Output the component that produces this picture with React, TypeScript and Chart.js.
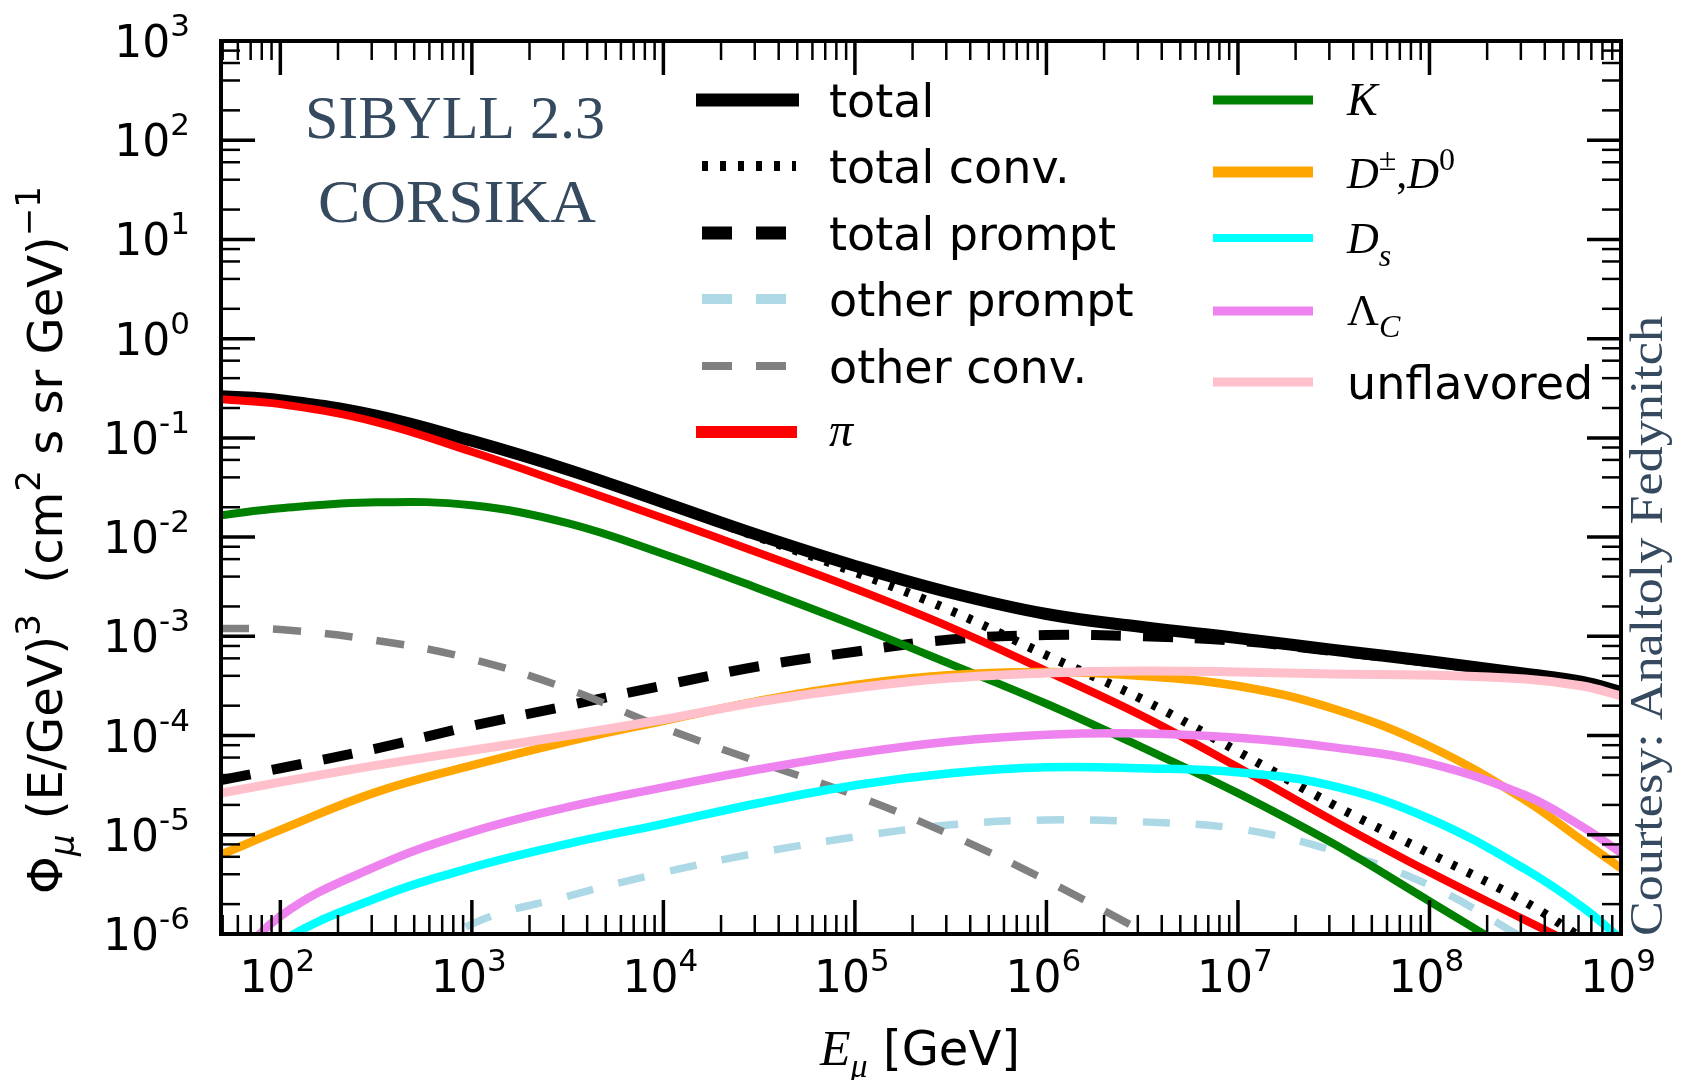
import React, { useEffect, useRef } from "react";
import { Chart, registerables } from "chart.js";

Chart.register(...registerables);

// ---------- data ----------
const energies = [49, 100, 316, 1000, 3160, 10000, 31600, 100000, 316000, 1e6, 3.16e6, 1e7, 3.16e7, 1e8, 3.16e8, 6.3e8, 1e9];

const total = [0.263, 0.24, 0.168, 0.0935, 0.0479, 0.0224, 0.0104, 0.00513, 0.00275, 0.00168, 0.00124, 0.00096, 0.00073, 0.00056, 0.00042, 0.000347, 0.000275];
const totalConv = [0.263, 0.2397, 0.168, 0.0934, 0.0477, 0.0221, 0.0099, 0.00443, 0.00182, 0.000645, 0.000232, 0.000069, 0.00002, 0.0000065, 0.0000021, 0.0000009, 0.0000005];
const totalPrompt = [0.0000355, 0.0000468, 0.000074, 0.000125, 0.0002, 0.00032, 0.0005, 0.0007, 0.00093, 0.00103, 0.001, 0.0009, 0.00071, 0.00055, 0.000415, 0.000345, 0.000272];
const otherPrompt = [null, null, 3.2e-7, 1.26e-6, 2.4e-6, 4.17e-6, 6.6e-6, 9.5e-6, 1.26e-5, 1.41e-5, 1.35e-5, 1.15e-5, 6.9e-6, 3.1e-6, 8.9e-7, null, null];
const otherConv = [1.2e-3, 1.17e-3, 9.1e-4, 5.9e-4, 2.95e-4, 1.2e-4, 5.4e-5, 2.5e-5, 1.0e-5, 3.47e-6, 1.07e-6, 3.2e-7, null, null, null, null, null];
const pion = [0.245, 0.219, 0.1445, 0.0724, 0.0339, 0.0155, 0.0069, 0.00302, 0.00123, 4.47e-4, 1.58e-4, 4.8e-5, 1.38e-5, 4.2e-6, 1.38e-6, 7.1e-7, 4.5e-7];
const kaon = [0.0166, 0.0195, 0.0224, 0.0209, 0.0138, 0.00676, 0.00302, 0.00129, 5.25e-4, 2.09e-4, 7.6e-5, 2.63e-5, 8.1e-6, 2.14e-6, 5.6e-7, 2.5e-7, 1.4e-7];
const dMeson = [6.3e-6, 1.12e-5, 2.69e-5, 5.0e-5, 8.7e-5, 1.41e-4, 2.24e-4, 3.24e-4, 4.07e-4, 4.37e-4, 3.98e-4, 3.16e-4, 1.86e-4, 7.8e-5, 2.24e-5, 8.7e-6, 4.6e-6];
const dsMeson = [2.5e-7, 8.3e-7, 2.29e-6, 4.68e-6, 8.1e-6, 1.29e-5, 2.09e-5, 3.16e-5, 4.17e-5, 4.79e-5, 4.68e-5, 4.27e-5, 3.09e-5, 1.45e-5, 4.5e-6, 1.86e-6, 8.9e-7];
const lambdaC = [3.5e-7, 1.51e-6, 4.8e-6, 1.07e-5, 1.9e-5, 3.0e-5, 4.57e-5, 6.6e-5, 8.7e-5, 1.02e-4, 1.05e-4, 9.5e-5, 7.6e-5, 5.25e-5, 2.5e-5, 1.2e-5, 6.6e-6];
const unflavored = [2.63e-5, 3.39e-5, 5.0e-5, 7.1e-5, 1.0e-4, 1.45e-4, 2.19e-4, 3.02e-4, 3.8e-4, 4.27e-4, 4.47e-4, 4.37e-4, 4.17e-4, 4.07e-4, 3.72e-4, 3.16e-4, 2.51e-4];

const xTickExponents = [2, 3, 4, 5, 6, 7, 8, 9];
const yTickExponents = [-6, -5, -4, -3, -2, -1, 0, 1, 2, 3];
const xMinorSubs = [2, 3, 4, 5, 6, 7, 8, 9];
const yMinorSubs = [2, 4, 6, 8];

const X_MIN = 49;
const X_MAX = 1e9;
const Y_MIN = 1e-6;
const Y_MAX = 1e3;

const SANS = '"DejaVu Sans", sans-serif';
const SERIF = '"Liberation Serif", "DejaVu Serif", serif';
const SLATE = "#35495f";

type Seg = { t: string; f: string; dy?: number };

function segWidth(ctx: CanvasRenderingContext2D, segs: Seg[]) {
  let w = 0;
  for (const s of segs) {
    ctx.font = s.f;
    w += ctx.measureText(s.t).width;
  }
  return w;
}

function drawSegs(ctx: CanvasRenderingContext2D, segs: Seg[], x: number, y: number) {
  let cx = x;
  for (const s of segs) {
    ctx.font = s.f;
    ctx.fillText(s.t, cx, y + (s.dy || 0));
    cx += ctx.measureText(s.t).width;
  }
}

function tickSegs(e: number): Seg[] {
  return [
    { t: "10", f: `44px ${SANS}` },
    { t: e < 0 ? "-" + Math.abs(e) : String(e), f: `31px ${SANS}`, dy: -21 },
  ];
}

function handle(ctx: CanvasRenderingContext2D, x0: number, x1: number, y: number, color: string, width: number, dash: number[]) {
  ctx.save();
  ctx.strokeStyle = color;
  ctx.lineWidth = width;
  ctx.setLineDash(dash);
  ctx.lineCap = "butt";
  ctx.beginPath();
  ctx.moveTo(x0, y);
  ctx.lineTo(x1, y);
  ctx.stroke();
  ctx.restore();
}

const legendCol1 = [
  { segs: [{ t: "total", f: `46px ${SANS}` }], y: 100, base: 117, color: "#000", w: 13, dash: [] as number[], x0: 696, x1: 799 },
  { segs: [{ t: "total conv.", f: `46px ${SANS}` }], y: 166, base: 183, color: "#000", w: 10, dash: [6, 12], x0: 702, x1: 796 },
  { segs: [{ t: "total prompt", f: `46px ${SANS}` }], y: 233, base: 250, color: "#000", w: 13, dash: [30, 24], x0: 702, x1: 786 },
  { segs: [{ t: "other prompt", f: `46px ${SANS}` }], y: 299, base: 316, color: "#add8e6", w: 10, dash: [30, 24], x0: 702, x1: 786 },
  { segs: [{ t: "other conv.", f: `46px ${SANS}` }], y: 366, base: 383, color: "#808080", w: 8, dash: [30, 24], x0: 702, x1: 786 },
  { segs: [{ t: "π", f: `italic 48px ${SERIF}` }], y: 432, base: 446, color: "#ff0000", w: 12, dash: [] as number[], x0: 696, x1: 797 },
];

const legendCol2 = [
  { segs: [{ t: "K", f: `italic 46px ${SERIF}` }], y: 100, base: 115, color: "#008000", w: 9 },
  {
    segs: [
      { t: "D", f: `italic 44px ${SERIF}` },
      { t: "±", f: `32px ${SERIF}`, dy: -18 },
      { t: ",", f: `44px ${SERIF}` },
      { t: "D", f: `italic 44px ${SERIF}` },
      { t: "0", f: `32px ${SERIF}`, dy: -18 },
    ],
    y: 172, base: 188, color: "#ffa500", w: 11,
  },
  { segs: [{ t: "D", f: `italic 44px ${SERIF}` }, { t: "s", f: `italic 32px ${SERIF}`, dy: 13 }], y: 238, base: 253, color: "#00ffff", w: 8 },
  { segs: [{ t: "Λ", f: `44px ${SERIF}` }, { t: "C", f: `italic 32px ${SERIF}`, dy: 12 }], y: 311, base: 325, color: "#ee82ee", w: 9 },
  { segs: [{ t: "unflavored", f: `46px ${SANS}` }], y: 382, base: 399, color: "#ffc0cb", w: 9 },
];

const overlayPlugin = {
  id: "overlay",
  afterDraw(chart: any) {
    const ctx: CanvasRenderingContext2D = chart.ctx;
    const { left, right, top, bottom } = chart.chartArea;
    const xs = chart.scales.x;
    const ys = chart.scales.y;
    ctx.save();
    ctx.strokeStyle = "#000";
    ctx.fillStyle = "#000";
    ctx.lineCap = "butt";
    ctx.setLineDash([]);
    const seg = (x1: number, y1: number, x2: number, y2: number, w: number) => {
      ctx.lineWidth = w;
      ctx.beginPath();
      ctx.moveTo(x1, y1);
      ctx.lineTo(x2, y2);
      ctx.stroke();
    };
    const MAJ = 34, MIN = 19, MAJW = 3.5, MINW = 2.5;

    // x ticks (bottom + top, inward)
    for (let e = xTickExponents[0] - 1; e <= xTickExponents[xTickExponents.length - 1]; e++) {
      for (const m of [1, ...xMinorSubs]) {
        const v = m * Math.pow(10, e);
        if (v < X_MIN * 1.02 || v > X_MAX * 1.0001) continue;
        const px = xs.getPixelForValue(v);
        const major = m === 1;
        const len = major ? MAJ : MIN;
        const w = major ? MAJW : MINW;
        seg(px, bottom, px, bottom - len, w);
        seg(px, top, px, top + len, w);
      }
    }
    // y ticks (left + right, inward)
    for (let e = yTickExponents[0]; e <= yTickExponents[yTickExponents.length - 1]; e++) {
      for (const m of [1, ...yMinorSubs]) {
        const v = m * Math.pow(10, e);
        if (v < Y_MIN * 0.999 || v > Y_MAX * 1.001) continue;
        const py = ys.getPixelForValue(v);
        const major = m === 1;
        const len = major ? MAJ : MIN;
        const w = major ? MAJW : MINW;
        seg(left, py, left + len, py, w);
        seg(right, py, right - len, py, w);
      }
    }
    // frame
    ctx.lineWidth = 4;
    ctx.strokeRect(left, top, right - left, bottom - top);

    // tick labels
    ctx.textAlign = "left";
    ctx.textBaseline = "alphabetic";
    for (const e of xTickExponents) {
      const px = xs.getPixelForValue(Math.pow(10, e));
      const segs = tickSegs(e);
      const w = segWidth(ctx, segs);
      drawSegs(ctx, segs, px - w / 2 - 3, 992);
    }
    for (const e of yTickExponents) {
      const py = ys.getPixelForValue(Math.pow(10, e));
      const segs = tickSegs(e);
      const w = segWidth(ctx, segs);
      drawSegs(ctx, segs, 190 - w, py + 16);
    }

    // x title
    const xt: Seg[] = [
      { t: "E", f: `italic 50px ${SERIF}` },
      { t: "μ", f: `italic 34px ${SERIF}`, dy: 12 },
      { t: " [GeV]", f: `48px ${SANS}` },
    ];
    const xw = segWidth(ctx, xt);
    drawSegs(ctx, xt, 920 - xw / 2, 1065);

    // y title (rotated)
    const yt: Seg[] = [
      { t: "Φ", f: `48px ${SANS}` },
      { t: "μ", f: `italic 34px ${SANS}`, dy: 12 },
      { t: " (E/GeV)", f: `48px ${SANS}` },
      { t: "3", f: `34px ${SANS}`, dy: -22 },
      { t: "  (cm", f: `48px ${SANS}` },
      { t: "2", f: `34px ${SANS}`, dy: -22 },
      { t: " s sr GeV)", f: `48px ${SANS}` },
      { t: "−1", f: `34px ${SANS}`, dy: -22 },
    ];
    ctx.save();
    ctx.translate(62, 540);
    ctx.rotate(-Math.PI / 2);
    const yw = segWidth(ctx, yt);
    drawSegs(ctx, yt, -yw / 2, 0);
    ctx.restore();

    // legend
    for (const it of legendCol1) {
      handle(ctx, it.x0, it.x1, it.y, it.color, it.w, it.dash);
      ctx.fillStyle = "#000";
      drawSegs(ctx, it.segs as Seg[], 829, it.base);
    }
    for (const it of legendCol2) {
      handle(ctx, 1213, 1313, it.y, it.color, it.w, []);
      ctx.fillStyle = "#000";
      drawSegs(ctx, it.segs as Seg[], 1347, it.base);
    }

    // annotations
    const fit = (text: string, font: string, cx: number, base: number, target: number) => {
      ctx.font = font;
      const w = ctx.measureText(text).width;
      ctx.save();
      ctx.translate(cx, base);
      ctx.scale(target / w, 1);
      ctx.textAlign = "center";
      ctx.fillText(text, 0, 0);
      ctx.restore();
    };
    ctx.fillStyle = SLATE;
    fit("SIBYLL 2.3", `62px ${SERIF}`, 455, 138, 300);
    fit("CORSIKA", `62px ${SERIF}`, 457, 222, 278);

    ctx.save();
    ctx.translate(1662, 936);
    ctx.rotate(-Math.PI / 2);
    ctx.font = `46px ${SERIF}`;
    const ct = "Courtesy: Analtoly Fedynitch";
    const cw = ctx.measureText(ct).width;
    ctx.scale(620 / cw, 1);
    ctx.textAlign = "left";
    ctx.fillText(ct, 0, 0);
    ctx.restore();

    ctx.restore();
  },
};

function mk(label: string, arr: (number | null)[], color: string, width: number, dash: number[], order: number) {
  return {
    label,
    data: energies.map((x, i) => ({ x, y: arr[i] })),
    borderColor: color,
    backgroundColor: color,
    borderWidth: width,
    borderDash: dash,
    borderJoinStyle: "round" as const,
    borderCapStyle: "butt" as const,
    pointRadius: 0,
    tension: 0.4,
    fill: false,
    spanGaps: false,
    order,
  };
}

export default function App() {
  const ref = useRef<HTMLCanvasElement>(null);
  useEffect(() => {
    const canvas = ref.current;
    if (!canvas) return;
    const series = [
      mk("total", total, "#000000", 12, [], 11),
      mk("total conv.", totalConv, "#000000", 9, [5, 12], 10),
      mk("total prompt", totalPrompt, "#000000", 10, [30, 22], 9),
      mk("other prompt", otherPrompt, "#add8e6", 7.5, [27, 26], 8),
      mk("other conv.", otherConv, "#808080", 7.5, [28, 24], 7),
      mk("π", pion, "#ff0000", 8, [], 6),
      mk("K", kaon, "#008000", 8, [], 5),
      mk("D±,D0", dMeson, "#ffa500", 8.5, [], 4),
      mk("Ds", dsMeson, "#00ffff", 8.5, [], 3),
      mk("ΛC", lambdaC, "#ee82ee", 8.5, [], 2),
      mk("unflavored", unflavored, "#ffc0cb", 9, [], 1),
    ];
    const chart = new Chart(canvas, {
      type: "line",
      data: { datasets: series as any },
      options: {
        responsive: false,
        animation: false,
        devicePixelRatio: 1,
        events: [],
        layout: { padding: { left: 0, right: 61, top: 41, bottom: 0 } },
        plugins: { legend: { display: false }, tooltip: { enabled: false }, title: { display: false } },
        elements: { point: { radius: 0 }, line: { capBezierPoints: false } },
        scales: {
          x: {
            type: "logarithmic",
            min: X_MIN,
            max: X_MAX,
            grid: { display: false },
            border: { display: false },
            ticks: { display: false },
            afterFit: (s: any) => {
              s.height = 146;
            },
          },
          y: {
            type: "logarithmic",
            min: Y_MIN,
            max: Y_MAX,
            grid: { display: false },
            border: { display: false },
            ticks: { display: false },
            afterFit: (s: any) => {
              s.width = 221;
            },
          },
        },
      } as any,
      plugins: [overlayPlugin],
    });
    let alive = true;
    if ((document as any).fonts && (document as any).fonts.ready) {
      (document as any).fonts.ready.then(() => {
        if (alive) chart.update();
      });
    }
    return () => {
      alive = false;
      chart.destroy();
    };
  }, []);
  return (
    <div style={{ position: "absolute", left: 0, top: 0, width: 1682, height: 1080, background: "#ffffff" }}>
      <canvas ref={ref} width={1682} height={1080} style={{ display: "block", width: 1682, height: 1080 }} />
    </div>
  );
}
